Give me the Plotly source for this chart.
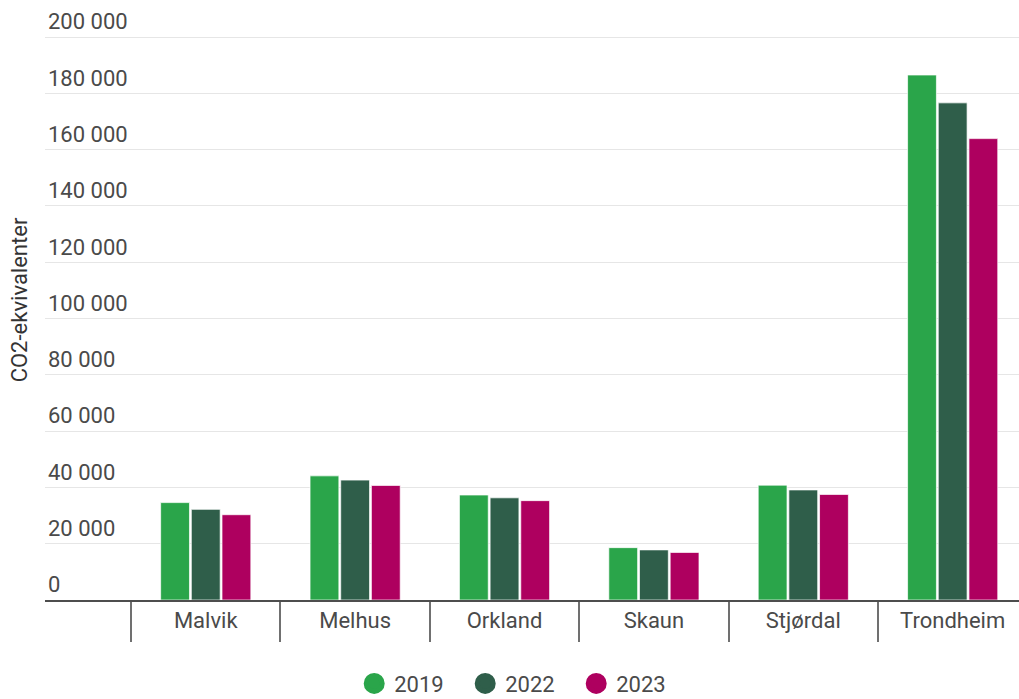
import plotly.graph_objects as go

kommuner = ["Malvik", "Melhus", "Orkland", "Skaun", "Stjørdal", "Trondheim"]
years = ["2019", "2022", "2023"]
v2019 = [34600, 44100, 37300, 18600, 40800, 186500]
v2022 = [32200, 42600, 36300, 17800, 39100, 176600]
v2023 = [30300, 40700, 35300, 16900, 37500, 163900]
series = [v2019, v2022, v2023]
colors = ["#2aa54a", "#2f5e4a", "#ae005f"]

tick_vals = [0, 20000, 40000, 60000, 80000, 100000, 120000, 140000, 160000, 180000, 200000]
tick_text = ["0", "20 000", "40 000", "60 000", "80 000", "100 000", "120 000",
             "140 000", "160 000", "180 000", "200 000"]

FONT = "Roboto, 'Noto Sans', sans-serif"
fig = go.Figure()
for yr, vals, col in zip(years, series, colors):
    fig.add_trace(go.Bar(
        x=kommuner, y=vals, name=yr, marker_color=col,
        marker_line=dict(color="rgba(255,255,255,0.7)", width=1),
        showlegend=False,
    ))
for yr, col in zip(years, colors):
    fig.add_trace(go.Scatter(
        x=[None], y=[None], mode="markers", name=yr,
        marker=dict(symbol="circle", size=16, color=col,
                    line=dict(color=col, width=6)),
    ))

fig.update_layout(
    width=1019, height=699,
    margin=dict(l=45, r=0, t=0, b=99),
    plot_bgcolor="white", paper_bgcolor="white",
    barmode="group", bargap=0.384, bargroupgap=0.06,
    font=dict(family=FONT, size=22, color="#4a4a4a"),
    legend=dict(orientation="h", xref="container", x=0.511, xanchor="center",
                yref="container", y=0.022, yanchor="middle",
                font=dict(size=22, color="#4a4a4a"), itemsizing="trace",
                entrywidth=66, traceorder="normal"),
    xaxis=dict(
        type="category", range=[-1.076, 5.444], automargin=False,
        showline=True, linecolor="#4d4d4d", linewidth=2,
        ticks="outside", tickson="boundaries", ticklen=40,
        tickcolor="#707070", tickwidth=1.5,
        ticklabelstandoff=0,
        tickfont=dict(size=22, color="#4a4a4a"),
        showgrid=False,
    ),
    yaxis=dict(
        range=[0, 213144], tickvals=tick_vals, ticktext=tick_text,
        automargin=False,
        ticklabelposition="inside top",
        tickfont=dict(size=22, color="#4a4a4a"),
        showgrid=True, gridcolor="#e6e6e6", gridwidth=1,
        zeroline=False,
        title=dict(text="CO2-ekvivalenter", standoff=14,
                   font=dict(size=22, color="#333333")),
    ),
)

fig.write_html("out.html", config={"displayModeBar": False},
               post_script="document.body.style.margin='0';")
